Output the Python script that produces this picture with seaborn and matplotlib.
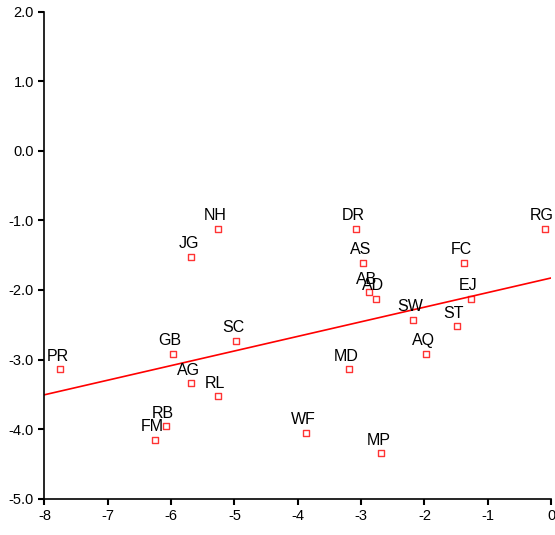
import numpy as np
import pandas as pd
import matplotlib
matplotlib.use("Agg")
import matplotlib.pyplot as plt
import seaborn as sns

labels = ["PR", "NH", "JG", "GB", "SC", "AG", "RL", "RB", "FM", "WF", "DR",
          "AS", "AB", "AD", "MD", "MP", "SW", "AQ", "ST", "FC", "EJ", "RG"]
x_vals = [-7.75, -5.26, -5.68, -5.97, -4.97, -5.68, -5.26, -6.08, -6.25, -3.87, -3.08,
          -2.97, -2.87, -2.76, -3.19, -2.68, -2.18, -1.97, -1.49, -1.38, -1.27, -0.10]
y_vals = [-3.14, -1.12, -1.52, -2.92, -2.73, -3.34, -3.53, -3.96, -4.15, -4.05, -1.12,
          -1.61, -2.03, -2.13, -3.14, -4.35, -2.43, -2.92, -2.52, -1.61, -2.13, -1.12]

df = pd.DataFrame({"label": labels, "x": x_vals, "y": y_vals})

sns.set_style("white")
plt.rcParams["font.family"] = ["Liberation Sans", "DejaVu Sans"]
plt.rcParams["axes.unicode_minus"] = False

fig, ax = plt.subplots(figsize=(5.55, 5.35), dpi=100)
fig.subplots_adjust(left=0.08, right=0.993, top=0.978, bottom=0.068)
ax.set_xlim(-8, 0)
ax.set_ylim(-5, 2)

sns.regplot(data=df, x="x", y="y", ax=ax, ci=None, truncate=False, marker="s",
            scatter_kws=dict(s=20, facecolors="white",
                             edgecolors="red", linewidths=1),
            line_kws=dict(color="red", lw=1.2))
ax.set_xlim(-8, 0)
ax.set_ylim(-5, 2)

for row in df.itertuples():
    ax.annotate(row.label, (row.x, row.y), xytext=(-2, 4),
                textcoords="offset points", ha="center", va="bottom",
                fontsize=11.5, color="black")

ax.set_xticks(range(-8, 1))
ax.set_yticks(np.arange(-5, 2.1, 1))
ax.set_yticklabels([f"{v:.1f}" for v in np.arange(-5, 2.1, 1)])
ax.tick_params(direction="out", length=4, width=1.5, colors="black", labelsize=10.5,
               left=True, bottom=True)
ax.set_xlabel("")
ax.set_ylabel("")
for s in ["top", "right"]:
    ax.spines[s].set_visible(False)
for s in ["left", "bottom"]:
    ax.spines[s].set_color("black")
    ax.spines[s].set_linewidth(1.2)

fig.savefig("out.png", dpi=100)
